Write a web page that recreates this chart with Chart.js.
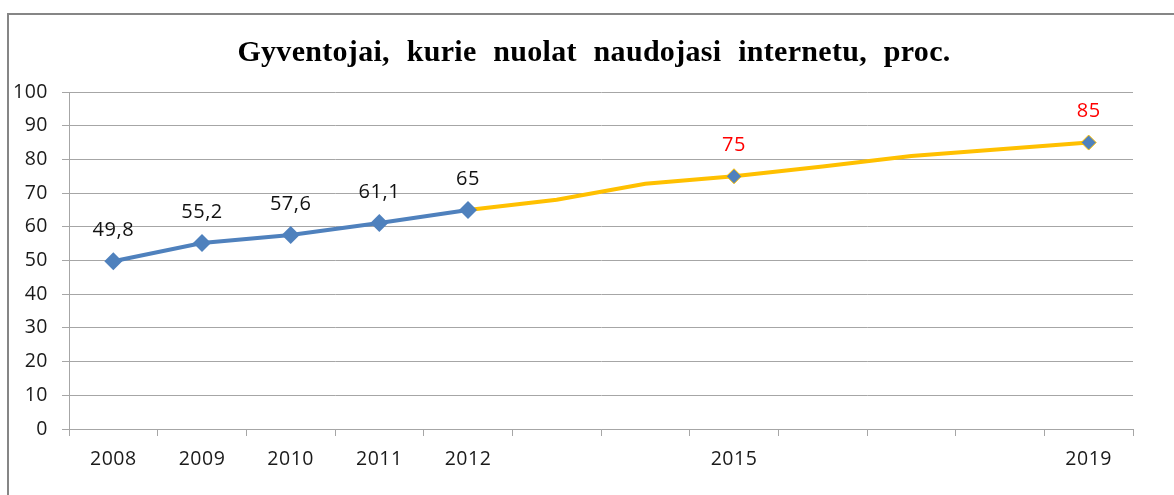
<!DOCTYPE html>
<html>
<head>
<meta charset="utf-8">
<script src="https://cdn.jsdelivr.net/npm/chart.js@4.4.0/dist/chart.umd.min.js"></script>
<style>
  html, body { margin: 0; padding: 0; background: #fff; }
  #wrap { position: relative; width: 1174px; height: 495px; overflow: hidden; }
  #frame { position: absolute; left: 7px; top: 13px; width: 1300px; height: 600px;
           border-left: 2px solid #868686; border-top: 2px solid #868686; }
  canvas { position: absolute; left: 0; top: 0; }
</style>
</head>
<body>
<div id="wrap">
  <div id="frame"></div>
  <canvas id="c" width="1174" height="495"></canvas>
</div>
<script>
// ---- data ----
const titleText = 'Gyventojai, kurie nuolat naudojasi internetu, proc.';
const years = ['2008','2009','2010','2011','2012','2013','2014','2015','2016','2017','2018','2019'];
const shownYearLabels = ['2008','2009','2010','2011','2012','2015','2019'];
const actualValues = [49.8, 55.2, 57.6, 61.1, 65, null, null, null, null, null, null, null];
const forecastValues = [null, null, null, null, 65, 68, 72.8, 75, 77.9, 81, 83, 85];
const forecastMarkedYears = ['2015', '2019'];
const yTicks = [0, 10, 20, 30, 40, 50, 60, 70, 80, 90, 100];

const BLUE = '#4F81BD';
const YELLOW = '#FFC000';
const GRID = '#a6a6a6';
const FONT = "'Open Sans', sans-serif";

const fmt = v => String(v).replace('.', ',');

const spacingPlugin = {
  id: 'spacing',
  beforeDraw(chart) { chart.ctx.letterSpacing = '0.5px'; }
};

const titlePlugin = {
  id: 'customTitle',
  afterDraw(chart) {
    const ctx = chart.ctx;
    ctx.save();
    ctx.letterSpacing = '0.3px';
    ctx.wordSpacing = '9px';
    ctx.font = "bold 30px 'Liberation Serif', 'Times New Roman', serif";
    ctx.fillStyle = '#000';
    ctx.textAlign = 'center';
    ctx.textBaseline = 'alphabetic';
    ctx.fillText(titleText, 594, 61);
    ctx.restore();
  }
};

const labelPlugin = {
  id: 'pointLabels',
  afterDatasetsDraw(chart) {
    const ctx = chart.ctx;
    ctx.save();
    ctx.letterSpacing = '0.5px';
    ctx.font = '20px ' + FONT;
    ctx.textAlign = 'center';
    ctx.textBaseline = 'middle';
    chart.data.datasets.forEach((ds, di) => {
      const meta = chart.getDatasetMeta(di);
      meta.data.forEach((pt, i) => {
        const v = ds.data[i];
        if (v === null || v === undefined) return;
        if (ds.labelYears && !ds.labelYears.includes(years[i])) return;
        ctx.fillStyle = ds.labelColor;
        ctx.fillText(fmt(v), pt.x, pt.y - 31);
      });
    });
    ctx.restore();
  }
};

new Chart(document.getElementById('c'), {
  type: 'line',
  data: {
    labels: years,
    datasets: [
      {
        data: actualValues,
        borderColor: BLUE,
        backgroundColor: BLUE,
        borderWidth: 4,
        pointStyle: 'rectRot',
        pointRadius: 9,
        pointBorderWidth: 0,
        pointBackgroundColor: BLUE,
        tension: 0,
        spanGaps: false,
        labelColor: '#111'
      },
      {
        data: forecastValues,
        borderColor: YELLOW,
        backgroundColor: BLUE,
        borderWidth: 4,
        pointStyle: 'rectRot',
        pointRadius: ctx => forecastMarkedYears.includes(years[ctx.dataIndex]) ? 7.5 : 0,
        pointBorderWidth: 1,
        pointBorderColor: YELLOW,
        pointBackgroundColor: BLUE,
        tension: 0,
        labelColor: '#ff0000',
        labelYears: forecastMarkedYears
      }
    ]
  },
  options: {
    responsive: false,
    animation: false,
    events: [],
    layout: { padding: { top: 92, right: 41, bottom: 0, left: 0 } },
    plugins: {
      legend: { display: false },
      tooltip: { enabled: false },
      title: { display: false }
    },
    scales: {
      x: {
        offset: true,
        grid: {
          display: true, offset: true, drawOnChartArea: false, drawTicks: true,
          tickLength: 7, color: GRID, lineWidth: 1
        },
        border: { display: true, color: GRID, width: 1 },
        ticks: {
          autoSkip: false, maxRotation: 0, padding: 12, color: '#1a1a1a',
          font: { family: FONT, size: 19.5 },
          callback: function(value) {
            const lab = this.getLabelForValue(value);
            return shownYearLabels.includes(lab) ? lab : '';
          }
        },
        afterFit: s => { s.height = 66; }
      },
      y: {
        min: 0, max: 100,
        afterBuildTicks: s => { s.ticks = yTicks.map(v => ({ value: v })); },
        grid: { color: GRID, lineWidth: 1, tickLength: 7, drawTicks: true },
        border: { display: true, color: GRID, width: 1 },
        ticks: { padding: 14, color: '#1a1a1a', font: { family: FONT, size: 19.5 } },
        afterFit: s => { s.width = 69; }
      }
    }
  },
  plugins: [spacingPlugin, titlePlugin, labelPlugin]
});
</script>
</body>
</html>
